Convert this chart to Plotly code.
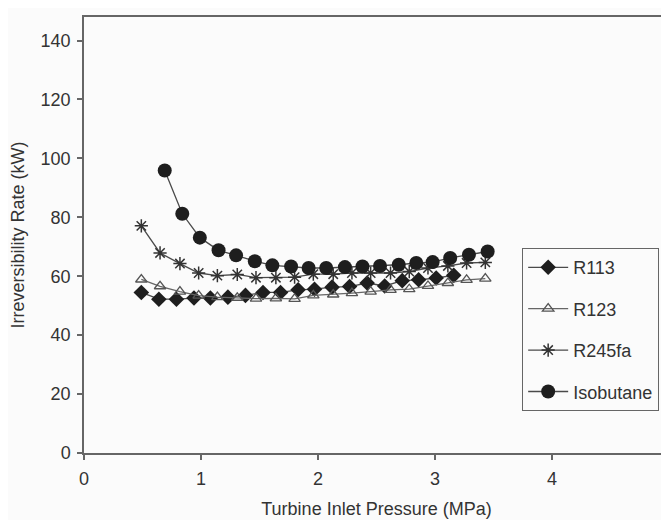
import plotly.graph_objects as go

# Data
r113_x = [0.49, 0.64, 0.79, 0.94, 1.08, 1.23, 1.38, 1.53, 1.68, 1.83, 1.97, 2.12, 2.27, 2.42, 2.57, 2.72, 2.86, 3.01, 3.16]
r113_y = [54.5, 52.2, 52.2, 52.6, 52.6, 52.9, 53.5, 54.5, 54.5, 55.4, 55.6, 56.3, 56.5, 57.7, 56.7, 58.5, 58.8, 59.4, 60.3]

r123_x = [0.49, 0.65, 0.82, 0.98, 1.14, 1.31, 1.47, 1.64, 1.80, 1.96, 2.13, 2.29, 2.45, 2.62, 2.78, 2.94, 3.11, 3.27, 3.43]
r123_y = [58.9, 56.6, 54.8, 53.4, 52.9, 52.7, 52.4, 52.5, 52.3, 53.5, 53.8, 54.3, 54.8, 55.4, 55.6, 56.7, 57.7, 58.8, 59.2]

r245fa_x = [0.49, 0.65, 0.82, 0.98, 1.14, 1.31, 1.47, 1.64, 1.80, 1.96, 2.13, 2.29, 2.45, 2.62, 2.78, 2.94, 3.11, 3.27, 3.43]
r245fa_y = [77.1, 67.9, 64.3, 61.1, 60.2, 60.6, 59.5, 59.5, 59.7, 60.7, 60.7, 61.1, 61.1, 61.1, 61.6, 62.8, 63.5, 64.5, 64.7]

isobutane_x = [0.69, 0.84, 0.99, 1.15, 1.30, 1.46, 1.61, 1.77, 1.92, 2.07, 2.23, 2.38, 2.53, 2.69, 2.84, 2.98, 3.13, 3.29, 3.45]
isobutane_y = [95.9, 81.2, 73.1, 68.8, 67.1, 65.1, 63.7, 63.3, 62.8, 62.8, 63.1, 63.3, 63.5, 63.9, 64.5, 64.8, 66.2, 67.3, 68.4]

x_ticks = [0, 1, 2, 3, 4, 5]
y_ticks = [0, 20, 40, 60, 80, 100, 120, 140]

FONT = "Liberation Sans, Arial, sans-serif"
LINE = "#4a4a4a"
MARK = "#1e1e1e"
BG = "#fbfbfb"

fig = go.Figure()

fig.add_trace(go.Scatter(
    x=r113_x, y=r113_y, name="R113", mode="lines+markers", legendgroup="a",
    line=dict(color=LINE, width=1.3),
    marker=dict(symbol="diamond", size=12, color=MARK, line=dict(width=0))))
fig.add_trace(go.Scatter(
    x=r123_x, y=r123_y, name="R123", mode="lines+markers", legendgroup="b",
    line=dict(color="#666666", width=1.3),
    marker=dict(symbol="triangle-up-open", size=10, color="#555555", line=dict(width=1.3))))
fig.add_trace(go.Scatter(
    x=r245fa_x, y=r245fa_y, name="R245fa", mode="lines+markers", legendgroup="c",
    line=dict(color=LINE, width=1.3),
    marker=dict(symbol="asterisk-open", size=11, color="#333333", line=dict(width=1.5, color="#333333"))))
fig.add_trace(go.Scatter(
    x=isobutane_x, y=isobutane_y, name="Isobutane", mode="lines+markers", legendgroup="d",
    line=dict(color=LINE, width=1.3),
    marker=dict(symbol="circle", size=14, color=MARK, line=dict(width=0))))

fig.update_layout(
    width=669, height=520,
    margin=dict(l=76, r=8, t=9, b=75),
    paper_bgcolor=BG, plot_bgcolor=BG,
    font=dict(family=FONT, size=18, color="#333333"),
    showlegend=True,
    legend=dict(
        x=0.749, y=0.470, xanchor="left", yanchor="top",
        bgcolor=BG, bordercolor="#666666", borderwidth=1,
        font=dict(family=FONT, size=18, color="#333333"),
        traceorder="grouped", tracegroupgap=15, itemwidth=40,
    ),
    xaxis=dict(
        range=[0, 5], tickvals=x_ticks, ticktext=[str(v) for v in x_ticks],
        showgrid=False, zeroline=False,
        showline=True, linecolor="#666666", linewidth=1.5, mirror=True,
        ticks="outside", ticklen=5, tickcolor="#666666", tickwidth=1.5,
        ticklabelstandoff=4,
        title=dict(text="Turbine Inlet Pressure (MPa)", standoff=14,
                   font=dict(family=FONT, size=18, color="#333333")),
        automargin=False,
    ),
    yaxis=dict(
        range=[0, 148], tickvals=y_ticks, ticktext=[str(v) for v in y_ticks],
        showgrid=False, zeroline=False,
        showline=True, linecolor="#666666", linewidth=1.5, mirror=True,
        ticks="outside", ticklen=5, tickcolor="#666666", tickwidth=1.5,
        ticklabelstandoff=3,
        title=dict(text="Irreversibility Rate (kW)", standoff=15,
                   font=dict(family=FONT, size=18, color="#333333")),
        automargin=False,
    ),
)

fig.write_html("out.html")
